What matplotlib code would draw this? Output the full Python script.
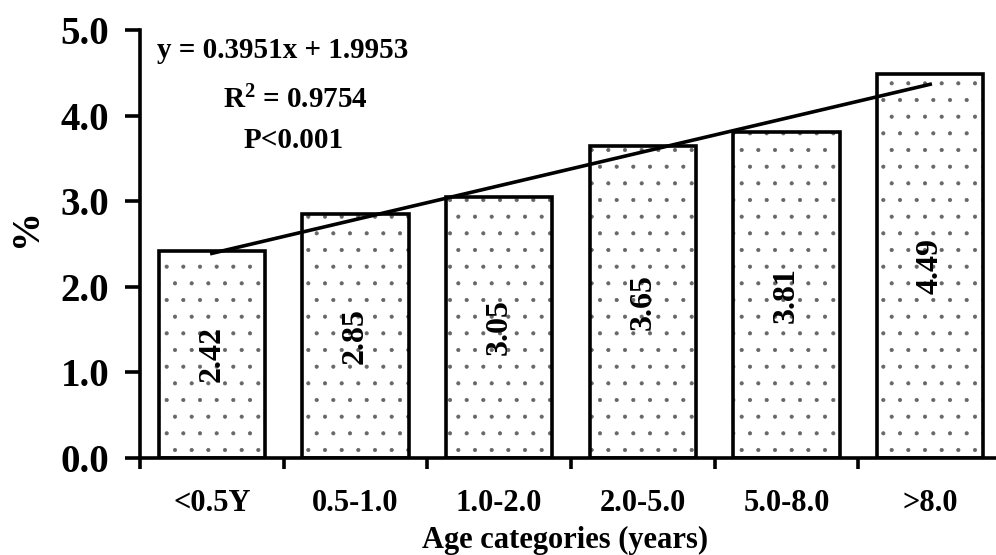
import matplotlib
matplotlib.use("Agg")
import matplotlib.pyplot as plt
import numpy as np

categories = ["<0.5Y", "0.5-1.0", "1.0-2.0", "2.0-5.0", "5.0-8.0", ">8.0"]
values = [2.42, 2.85, 3.05, 3.65, 3.81, 4.49]
slope = 0.3951
intercept = 1.9953
yticks = [0.0, 1.0, 2.0, 3.0, 4.0, 5.0]

plt.rcParams['font.family'] = ['Liberation Serif', 'DejaVu Serif']
plt.rcParams['font.weight'] = 'bold'
plt.rcParams['mathtext.fontset'] = 'custom'
plt.rcParams['mathtext.rm'] = 'Liberation Serif:bold'
plt.rcParams['mathtext.bf'] = 'Liberation Serif:bold'
plt.rcParams['mathtext.it'] = 'Liberation Serif:bold'
plt.rcParams['hatch.linewidth'] = 0.5

fig = plt.figure(figsize=(9.96, 5.55), dpi=100)
ax = fig.add_axes([140/996, 97/555, 862/996, 428/555])

x = np.arange(len(categories))
bars = ax.bar(x, values, width=0.74, color='white', edgecolor='black',
              linewidth=2.6, hatch='.')
for b in bars:
    b._hatch_color = (0.4, 0.4, 0.4, 1.0)

for xi, v in zip(x, values):
    ax.text(xi, v / 2, f"{v:.2f}", rotation=90, ha='center', va='center',
            fontsize=23, fontweight='bold')

# trend line
xl = np.array([x[0], x[-1]])
ax.plot(xl, slope * (xl + 1) + intercept, color='black', linewidth=2.6)

ax.set_xlim(-0.5, len(categories) - 0.5)
ax.set_ylim(0, 5.0)
ax.set_yticks(yticks)
ax.set_yticklabels([f"{t:.1f}" for t in yticks], fontsize=28, fontweight='bold')
ax.set_xticks(np.arange(len(categories) + 1) - 0.5, minor=False)
ax.set_xticklabels([])
ax.set_xticks(x, minor=True)
ax.set_xticklabels(categories, minor=True, fontsize=22, fontweight='bold')
ax.tick_params(axis='x', which='major', length=8, width=2.6, direction='out')
ax.tick_params(axis='x', which='minor', length=0, pad=22)
ax.tick_params(axis='y', length=11, width=2.6, direction='out', pad=11)

for s in ['top', 'right']:
    ax.spines[s].set_visible(False)
for s in ['left', 'bottom']:
    ax.spines[s].set_linewidth(2.6)

fig.text(565/996, 1 - 540/555, "Age categories (years)", fontsize=22,
         fontweight='bold', ha='center', va='center')
fig.text(26/996, 1 - 228/555, "%", fontsize=28, fontweight='bold',
         rotation=90, ha='center', va='center')

ax.text(157/996, 1 - 50/555, "y = 0.3951x + 1.9953", transform=fig.transFigure,
        fontsize=21, fontweight='bold', ha='left', va='center')
ax.text(295/996, 1 - 100/555, r"R$^{2}$ = 0.9754", transform=fig.transFigure,
        fontsize=21, fontweight='bold', ha='center', va='center')
ax.text(294/996, 1 - 140/555, "P<0.001", transform=fig.transFigure,
        fontsize=21, fontweight='bold', ha='center', va='center')

fig.savefig("out.png", dpi=100)
